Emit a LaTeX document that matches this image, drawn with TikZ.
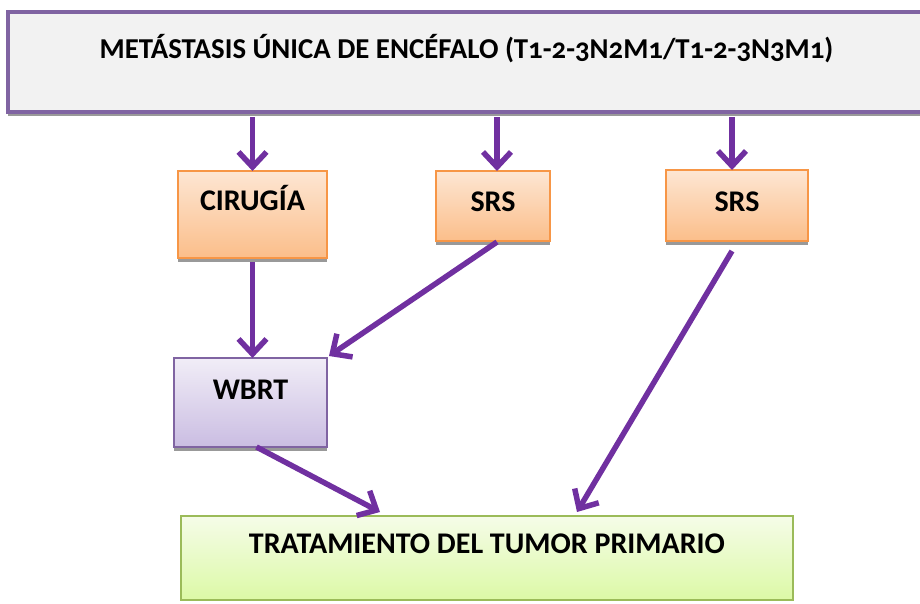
\documentclass[tikz,border=0pt]{standalone}
\usepackage{fontspec}
\setmainfont{Carlito}[Numbers=OldStyle]
\usetikzlibrary{arrows.meta,calc,shadows}
\definecolor{purp}{HTML}{7030A0}
\definecolor{topLine}{HTML}{8064A2}
\definecolor{topFill}{HTML}{F2F2F2}
\definecolor{orTop}{HTML}{FDE6D3}
\definecolor{orBot}{HTML}{FBBE8A}
\definecolor{orLine}{HTML}{F79646}
\definecolor{viTop}{HTML}{F1EDF7}
\definecolor{viBot}{HTML}{CABDE2}
\definecolor{viLine}{HTML}{8064A2}
\definecolor{grTop}{HTML}{F5FCE8}
\definecolor{grBot}{HTML}{DCF9A6}
\definecolor{grLine}{HTML}{9BBB59}
\tikzset{
  basebox/.style={rectangle, inner sep=0pt, outer sep=0pt, text=black},
  lowfont/.style={font=\bfseries\fontsize{30}{34}\selectfont},
  shad/.style={drop shadow={shadow xshift=0pt, shadow yshift=-4pt, fill=black!40, opacity=1}},
  orbox/.style={basebox, lowfont, shad, draw=orLine, line width=1.5pt, top color=orTop, bottom color=orBot},
  vibox/.style={basebox, lowfont, shad, draw=viLine, line width=1.5pt, top color=viTop, bottom color=viBot},
  grbox/.style={basebox, lowfont, draw=grLine, line width=1.5pt, top color=grTop, bottom color=grBot},
  topbox/.style={basebox, shad, draw=topLine, line width=4pt, fill=topFill, font=\bfseries\fontsize{28.8}{32}\selectfont},
  conn/.style={draw=purp, line width=5.5pt, -{Straight Barb[length=15pt,width=28pt]}}
}
\begin{document}
\begin{tikzpicture}[x=1pt,y=-1pt]
\useasboundingbox (0,0) rectangle (920,603);
\node[topbox, minimum width=917pt, minimum height=100pt, text height=46pt, text depth=54pt] (top) at (466.5,62)
  {METÁSTASIS ÚNICA DE ENCÉFALO (T1-2-3N2M1/T1-2-3N3M1)};
\node[orbox, minimum width=149pt, minimum height=87pt, text height=39pt, text depth=48pt] (cir) at (252.5,214.5) {CIRUGÍA};
\node[orbox, minimum width=114pt, minimum height=70pt, text height=40pt, text depth=30pt] (srsa) at (493,206) {SRS};
\node[orbox, minimum width=142pt, minimum height=71pt, text height=41pt, text depth=30pt] (srsb) at (737,205.5) {SRS};
\node[vibox, minimum width=153pt, minimum height=89pt, text height=41pt, text depth=48pt] (wbrt) at (250.5,402.5) {WBRT};
\node[grbox, minimum width=612pt, minimum height=84pt, text height=37pt, text depth=47pt] (bot) at (487,558) {TRATAMIENTO DEL TUMOR PRIMARIO};
\draw[conn] ([yshift=-5pt]top.south -| cir.north) -- (cir.north);
\draw[conn] ([yshift=-5pt]top.south -| 497,0) -- (srsa.north -| 497,0);
\draw[conn] ([yshift=-5pt]top.south -| 732,0) -- (srsb.north -| 732,0);
\draw[conn] ([yshift=-4pt]cir.south) -- (cir.south |- wbrt.north);
\draw[conn] ($(srsa.south)+(4,1)$) -- ($(wbrt.north east)+(2,-2)$);
\draw[conn] ($(srsb.south)+(-5,10)$) -- ($(bot.north)+(90,-4)$);
\draw[conn] ($(wbrt.south)+(6,0)$) -- ($(bot.north)+(-107,-4)$);
\end{tikzpicture}
\end{document}
